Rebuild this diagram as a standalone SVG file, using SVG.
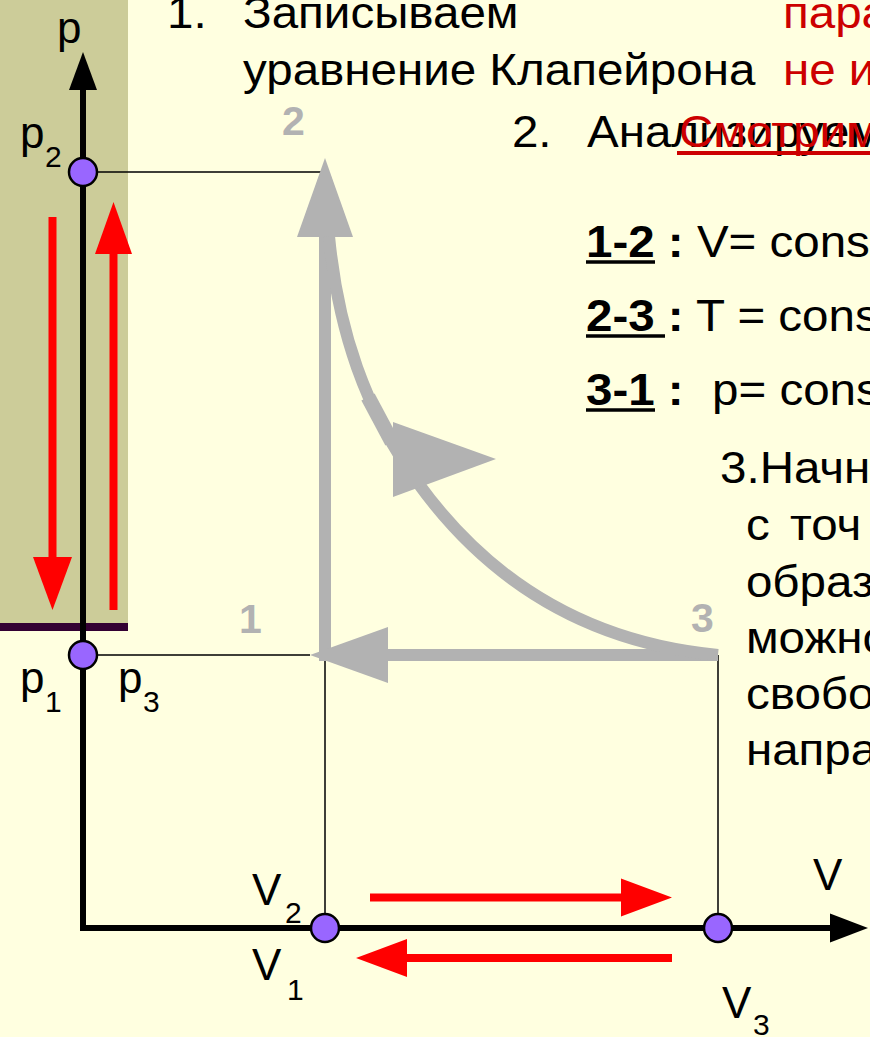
<svg xmlns="http://www.w3.org/2000/svg" width="870" height="1037" viewBox="0 0 870 1037">
<defs>
<style>
.t{font-family:"Liberation Sans",Arial,sans-serif;fill:#000}
.body{font-size:44px}
.lbl{font-size:44px}
.sub{font-size:30px}
.red{fill:#CC0000}
.b{font-weight:bold}
.gl{font-family:"Liberation Sans",Arial,sans-serif;font-size:41px;font-weight:bold;fill:#B2B2B2}
.pt{fill:#9966FF;stroke:#000;stroke-width:2.5}
.thin{stroke:#000;stroke-width:1.5;fill:none}
.axis{stroke:#000;stroke-width:6;fill:none}
.gray{stroke:#B2B2B2;stroke-width:12;fill:none}
.grayf{fill:#B2B2B2}
.redl{stroke:#FF0000;stroke-width:8;fill:none}
.redf{fill:#FF0000}
.ul{stroke:#000;stroke-width:3.5}
</style>
</defs>
<rect width="870" height="1037" fill="#FFFFE0"/>
<rect x="0" y="0" width="128" height="623" fill="#CCCC99"/>
<rect x="0" y="623" width="128" height="8" fill="#330033"/>

<g id="connectors">
  <path class="thin" d="M85 172H325M85 655H310M325 657V928M718 655V928"/>
  <line class="axis" x1="83" y1="85" x2="83" y2="931"/>
  <polygon points="83,52 69,90 97,90" fill="#000"/>
  <line class="axis" x1="80" y1="928" x2="834" y2="928"/>
  <polygon points="868,928 830,913.5 830,942.5" fill="#000"/>
  <line class="gray" x1="325" y1="661" x2="325" y2="232"/>
  <polygon class="grayf" points="325,158 297,237 353,237"/>
  <line class="gray" x1="718" y1="655" x2="385" y2="655"/>
  <polygon class="grayf" points="310,655 388,627 388,683"/>
  <path class="gray" d="M329 236C338 330 365 410 418 483C470 555 560 640 718 655"/>
  <line x1="368" y1="397" x2="392" y2="442" stroke="#B2B2B2" stroke-width="15"/>
  <polygon class="grayf" points="393,422 393,497 496,459"/>
  <line class="redl" x1="52.5" y1="217" x2="52.5" y2="560"/>
  <polygon class="redf" points="52.5,610 33,557 72,557"/>
  <line class="redl" x1="113.5" y1="610" x2="113.5" y2="250"/>
  <polygon class="redf" points="113.5,202 95,254 132,254"/>
  <line class="redl" x1="370" y1="897.5" x2="625" y2="897.5"/>
  <polygon class="redf" points="672,897.5 621,878.5 621,916.5"/>
  <line class="redl" x1="672" y1="958" x2="402" y2="958"/>
  <polygon class="redf" points="356,958 407,939 407,977"/>
</g>

<g id="node-p2"><circle class="pt" cx="83" cy="172" r="14"/></g>
<g id="node-p1"><circle class="pt" cx="83" cy="655" r="14"/></g>
<g id="node-V2"><circle class="pt" cx="325" cy="928" r="14"/></g>
<g id="node-V3"><circle class="pt" cx="718" cy="928" r="14"/></g>

<g id="axis-labels">
  <text class="t lbl" x="57" y="43">p</text>
  <text class="t lbl" x="20" y="148">p</text><text class="t sub" x="45" y="167">2</text>
  <text class="t lbl" x="20" y="693">p</text><text class="t sub" x="45" y="712">1</text>
  <text class="t lbl" x="118" y="693">p</text><text class="t sub" x="143" y="712">3</text>
  <text class="t lbl" x="813" y="890">V</text>
  <text class="t lbl" x="252" y="905">V</text><text class="t sub" x="285" y="923">2</text>
  <text class="t lbl" x="252" y="980">V</text><text class="t sub" x="287" y="1000">1</text>
  <text class="t lbl" x="722" y="1018">V</text><text class="t sub" x="753" y="1035">3</text>
</g>

<g id="state-labels">
  <text class="gl" x="282" y="135">2</text>
  <text class="gl" x="239" y="633">1</text>
  <text class="gl" x="691" y="632">3</text>
</g>

<g id="text-block" transform="scale(1.08,1)">
  <text class="t body" x="154.6" y="28">1.</text>
  <text class="t body" x="225" y="28">Записываем</text>
  <text class="t body" x="225" y="85">уравнение Клапейрона</text>
  <text class="t body red" x="725" y="28">пара</text>
  <text class="t body red" x="725" y="85">не и</text>
  <text class="t body" x="474" y="147">2.</text>
  <text class="t body" x="543.5" y="147">Анализируем</text>
  <text class="t body red" x="628.7" y="147">Смотрим</text>
  <text class="t body" x="542.6" y="257"><tspan class="b">1-2 :</tspan> V= cons</text>
  <text class="t body" x="542.6" y="331"><tspan class="b">2-3 :</tspan> T = cons</text>
  <text class="t body" x="542.6" y="405"><tspan class="b">3-1 :</tspan><tspan x="659.3">p= cons</tspan></text>
  <text class="t body" x="666.7" y="483">3.Начн</text>
  <text class="t body" x="690.7" y="540">с</text><text class="t body" x="731.5" y="540">точ</text>
  <text class="t body" x="690.7" y="597">образ</text>
  <text class="t body" x="690.7" y="653">можно</text>
  <text class="t body" x="690.7" y="709">свобо</text>
  <text class="t body" x="690.7" y="765">напра</text>
</g>
<g id="underlines">
  <rect x="677" y="151" width="193" height="4" fill="#CC0000"/>
  <line class="ul" x1="586" y1="262" x2="655" y2="262"/>
  <line class="ul" x1="586" y1="336" x2="665" y2="336"/>
  <line class="ul" x1="586" y1="410" x2="655" y2="410"/>
</g>
</svg>
